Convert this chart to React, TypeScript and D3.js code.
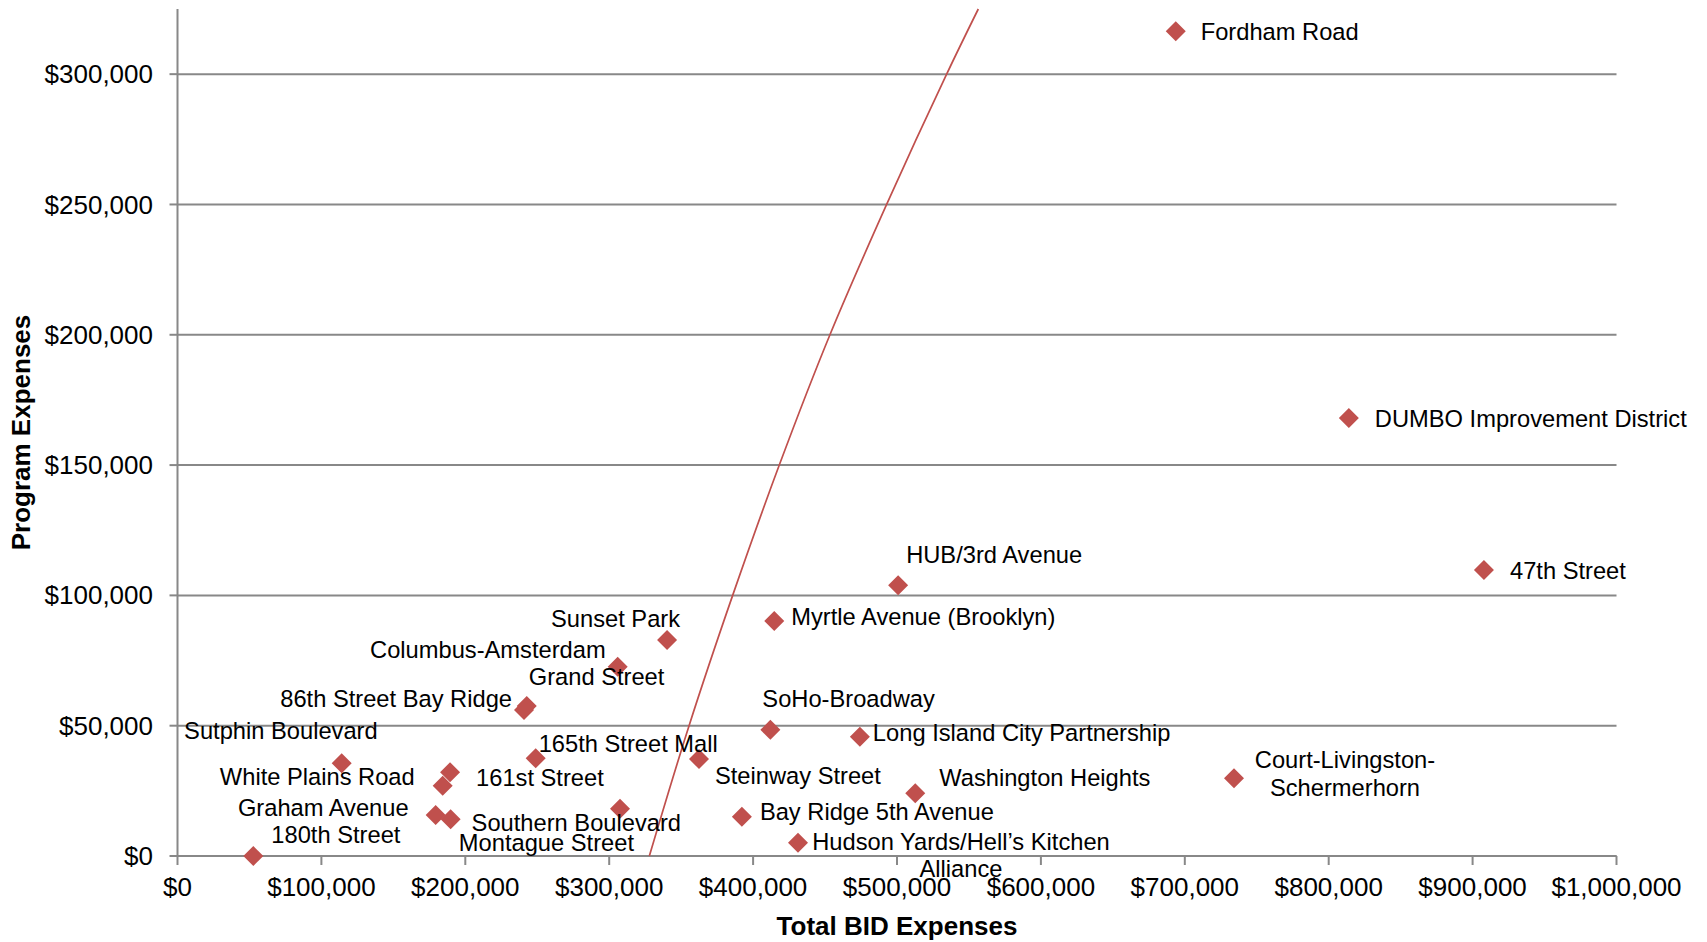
import React from "react";
import * as d3 from "d3";

// ---- data ----
const bidNames = [
  "Fordham Road",
  "DUMBO Improvement District",
  "47th Street",
  "HUB/3rd Avenue",
  "Myrtle Avenue (Brooklyn)",
  "Sunset Park",
  "Columbus-Amsterdam",
  "Grand Street",
  "86th Street Bay Ridge",
  "SoHo-Broadway",
  "Long Island City Partnership",
  "Sutphin Boulevard",
  "165th Street Mall",
  "161st Street",
  "White Plains Road",
  "Steinway Street",
  "Court-Livingston-\nSchermerhorn",
  "Washington Heights",
  "Graham Avenue",
  "Southern Boulevard",
  "Montague Street",
  "Bay Ridge 5th Avenue",
  "180th Street",
  "Hudson Yards/Hell’s Kitchen\nAlliance",
];

const totalBidExpenses = [
  693700, 814000, 907900, 500800, 414700, 340200, 305900, 242700, 240800,
  412000, 474200, 114100, 248900, 189400, 184300, 362400, 734200, 512700,
  179400, 189800, 307500, 392200, 52700, 431200,
];

const programExpenses = [
  316500, 168100, 109700, 103900, 90200, 82900, 72600, 57600, 56000, 48400,
  45800, 35600, 37500, 32100, 27000, 37200, 29800, 24100, 15700, 14100, 18100,
  15100, 0, 5100,
];

// trend line, points
const trendTotal = [327900, 355500, 385800, 418200, 453400, 492800, 534500, 556500];
const trendProgram = [0, 50000, 100000, 150000, 200000, 250000, 300000, 325000];

const xTickValues = [0, 100000, 200000, 300000, 400000, 500000, 600000, 700000, 800000, 900000, 1000000];
const yTickValues = [0, 50000, 100000, 150000, 200000, 250000, 300000];

// label placement relative to each marker: [anchor, dx, dy(baseline of first line)]
const labelPlacement: [string, number, number][] = [
  ["start", 25, 9],
  ["start", 26, 9],
  ["start", 26, 9],
  ["start", 8, -22],
  ["start", 17, 4],
  ["end", 13, -13],
  ["end", -12, -9],
  ["start", 2, -21],
  ["end", -12, -3],
  ["start", -8, -23],
  ["start", 13, 4],
  ["end", 36, -24],
  ["start", 3, -6],
  ["start", 26, 14],
  ["end", -28, -1],
  ["start", 16, 25],
  ["middle", 111, -10],
  ["start", 24, -7],
  ["end", -27, 1],
  ["start", 21, 12],
  ["end", 14, 42],
  ["start", 18, 3],
  ["start", 18, -13],
  ["middle", 163, 7],
];

const W = 1707;
const H = 942;
const RED = "#C0504D";
const GRID = "#888888";
const FONT = "'Liberation Sans', Arial, Helvetica, sans-serif";

export default function App() {
  const x = d3.scaleLinear().domain([0, 1000000]).range([177.5, 1616.5]);
  const y = d3.scaleLinear().domain([0, 325000]).range([856, 9]);
  const fmt = d3.format("$,");

  const trendPts: [number, number][] = trendTotal.map((t, i) => [t, trendProgram[i]]);
  const trendPath = d3
    .line<[number, number]>()
    .x((d) => x(d[0]))
    .y((d) => y(d[1]))
    .curve(d3.curveCatmullRom.alpha(0.5))(trendPts) as string;

  const [x0, x1] = x.range();
  const [y0, y1] = y.range();
  const r = 10;
  const lineH = 27.5;

  return (
    <svg
      width={W}
      height={H}
      style={{ position: "absolute", left: 0, top: 0, display: "block", background: "#fff" }}
      fontFamily={FONT}
    >
      {/* gridlines */}
      {yTickValues.map((v) => (
        <line key={"g" + v} x1={x0} x2={x1} y1={y(v)} y2={y(v)} stroke={GRID} strokeWidth={2} />
      ))}
      {/* y axis */}
      <line x1={x0} x2={x0} y1={y1} y2={y0} stroke={GRID} strokeWidth={2} />
      {yTickValues.map((v) => (
        <g key={"yt" + v}>
          <line x1={x0 - 8} x2={x0} y1={y(v)} y2={y(v)} stroke={GRID} strokeWidth={2} />
          <text x={153} y={y(v)} dy="0.35em" textAnchor="end" fontSize={26} fill="#000">
            {fmt(v)}
          </text>
        </g>
      ))}
      {/* x axis */}
      <line x1={x0} x2={x1} y1={y0} y2={y0} stroke={GRID} strokeWidth={2} />
      {xTickValues.map((v) => (
        <g key={"xt" + v}>
          <line x1={x(v)} x2={x(v)} y1={y0} y2={y0 + 9} stroke={GRID} strokeWidth={2} />
          <text x={x(v)} y={896} textAnchor="middle" fontSize={26} fill="#000">
            {fmt(v)}
          </text>
        </g>
      ))}
      {/* axis titles */}
      <text x={(x0 + x1) / 2} y={935} textAnchor="middle" fontSize={26} fontWeight="bold" fill="#000">
        Total BID Expenses
      </text>
      <text
        transform={`translate(30, ${(y0 + y1) / 2}) rotate(-90)`}
        textAnchor="middle"
        fontSize={26}
        fontWeight="bold"
        fill="#000"
      >
        Program Expenses
      </text>

      {/* trend line */}
      <path d={trendPath} fill="none" stroke={RED} strokeWidth={1.7} />

      {/* markers */}
      {totalBidExpenses.map((t, i) => {
        const cx = x(t);
        const cy = y(programExpenses[i]);
        return (
          <path
            key={"m" + i}
            d={`M${cx},${cy - r}L${cx + r},${cy}L${cx},${cy + r}L${cx - r},${cy}Z`}
            fill={RED}
          />
        );
      })}

      {/* labels */}
      {bidNames.map((name, i) => {
        const cx = x(totalBidExpenses[i]);
        const cy = y(programExpenses[i]);
        const [anchor, dx, dy] = labelPlacement[i];
        const lines = name.split("\n");
        return (
          <text
            key={"l" + i}
            x={cx + dx}
            y={cy + dy}
            textAnchor={anchor as any}
            fontSize={23.7}
            fill="#000"
          >
            {lines.map((ln, j) => (
              <tspan key={j} x={cx + dx} dy={j === 0 ? 0 : lineH}>
                {ln}
              </tspan>
            ))}
          </text>
        );
      })}
    </svg>
  );
}
